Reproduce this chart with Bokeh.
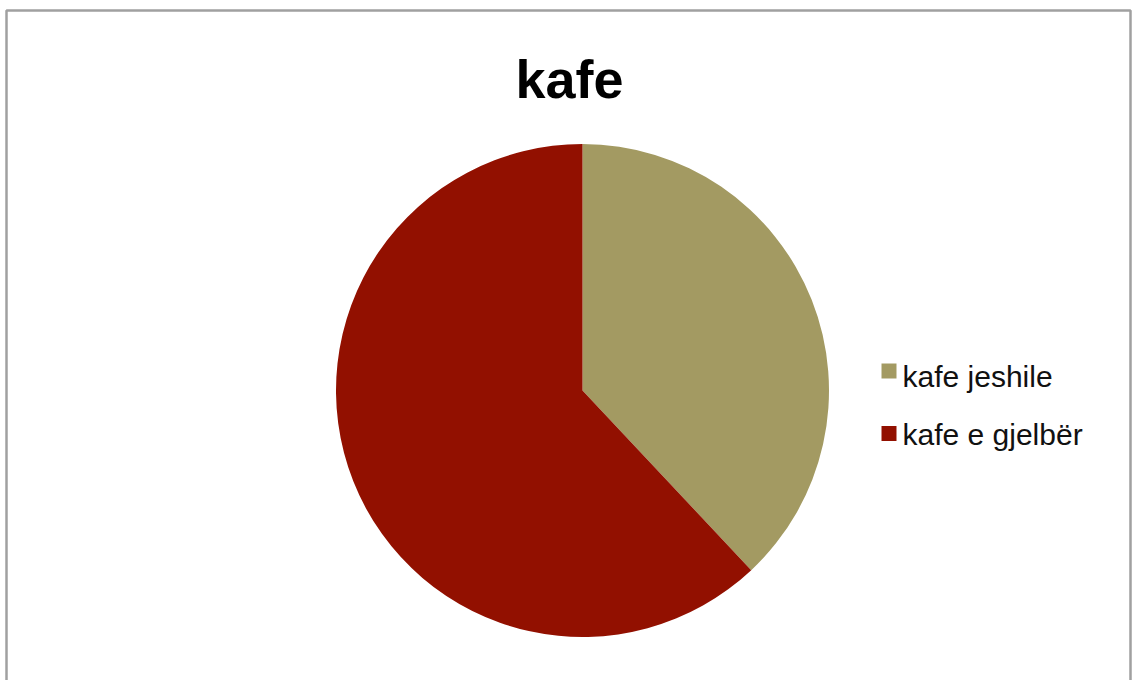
import math
from bokeh.plotting import figure
from bokeh.models import Range1d, ColumnDataSource
from bokeh.core.properties import value
from bokeh.embed import file_html
from bokeh.resources import INLINE

title = "kafe"
categories = ["kafe jeshile", "kafe e gjelbër"]
shares = [38, 62]
colors = ["#A39A62", "#921000"]

W, H = 1132, 680
p = figure(width=W, height=H, output_backend="svg", toolbar_location=None,
           x_range=Range1d(0, W), y_range=Range1d(0, H), min_border=0)
p.axis.visible = False
p.grid.visible = False
p.outline_line_color = None
p.background_fill_color = "white"
p.border_fill_color = "white"

# frame
p.quad(left=[6], right=[1130], top=[H - 10], bottom=[-20], fill_color=None,
       line_color="#a0a0a0", line_width=2.5)

# pie
total = sum(shares)
starts, ends = [], []
a = math.pi / 2
for s in shares:
    starts.append(a)
    a -= 2 * math.pi * s / total
    ends.append(a)
src = ColumnDataSource(dict(start=starts, end=ends, color=colors, cat=categories))
p.wedge(x=582, y=H - 390, radius=246.5, start_angle="start", end_angle="end",
        direction="clock", fill_color="color", line_color=None, source=src)

# title
p.text(x=[569], y=[H - 78], text=[title], text_font=value("Liberation Sans"),
       text_font_style="bold", text_font_size="54px", text_align="center",
       text_baseline="alphabetic", text_color="black")

# legend
ly = [H - 370.5, H - 433]
p.rect(x=[888.5, 888.5], y=ly, width=15, height=15, fill_color=colors, line_color=None)
p.text(x=[902, 902], y=[H - 376, H - 434], text=categories,
       text_font=value("Liberation Sans"), text_font_size="30px",
       text_baseline="alphabetic", text_align="left", text_color="#111111")

open("out.html", "w").write(file_html(p, INLINE))
